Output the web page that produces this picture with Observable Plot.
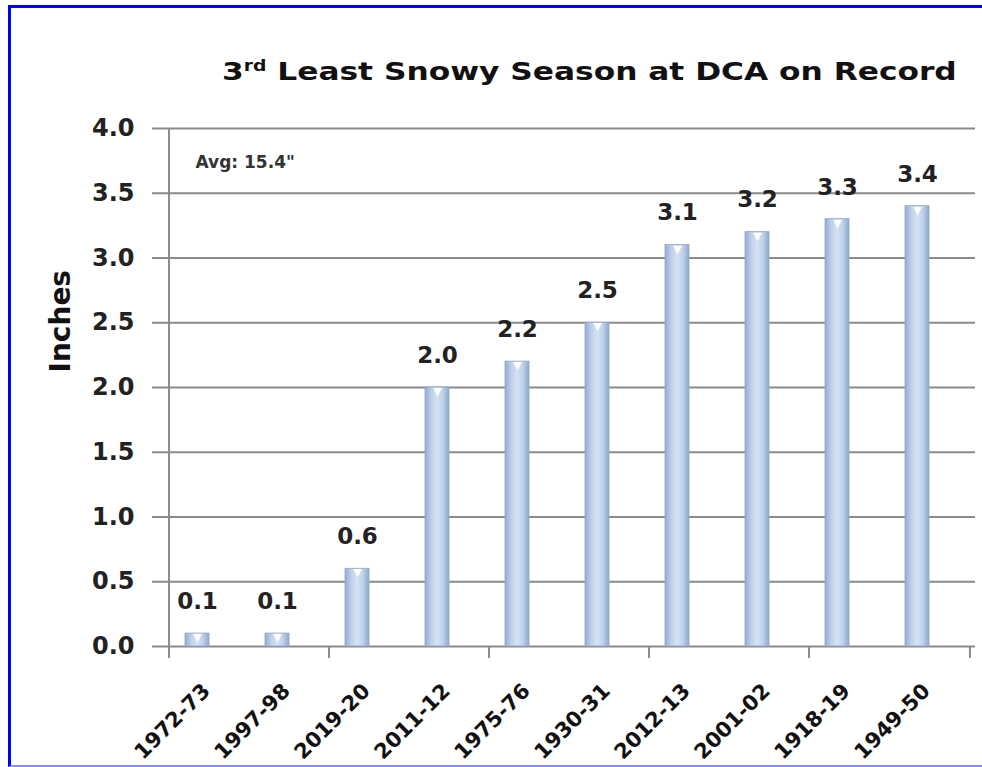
<!DOCTYPE html>
<html>
<head>
<meta charset="utf-8">
<script src="https://cdn.jsdelivr.net/npm/d3@7"></script>
<script src="https://cdn.jsdelivr.net/npm/@observablehq/plot@0.6"></script>
<style>
  html, body { margin: 0; padding: 0; background: #fff; }
  body { width: 982px; height: 767px; overflow: hidden; position: relative; font-family: "DejaVu Sans", sans-serif; }
  #frame { position: absolute; left: 8px; top: 5px; width: 1000px; height: 757px;
           border-top: 3px solid #0000ff; border-left: 3px solid #0000ff; border-bottom: 2px solid #8c8cff; }
  #title { position: absolute; left: 222px; top: 59px; font-size: 25px; line-height: 25px; font-weight: bold;
           color: #111; white-space: nowrap; transform: scaleX(1.25); transform-origin: left center; }
  #title sup { font-size: 15px; vertical-align: 9px; line-height: 0; }
  #chart { position: absolute; left: 0; top: 100px; }
</style>
</head>
<body>
<div id="frame"></div>
<div id="title">3<sup>rd</sup> Least Snowy Season at DCA on Record</div>
<div id="chart"></div>
<script>
const seasons = ["1972-73", "1997-98", "2019-20", "2011-12", "1975-76", "1930-31", "2012-13", "2001-02", "1918-19", "1949-50"];
const inches = [0.1, 0.1, 0.6, 2.0, 2.2, 2.5, 3.1, 3.2, 3.3, 3.4];
const yTicks = [0, 0.5, 1.0, 1.5, 2.0, 2.5, 3.0, 3.5, 4.0];
const tickSeasons = ["1972-73", "2019-20", "1975-76", "2012-13", "1918-19"];
const avgNote = "Avg: 15.4\"";
const yLabel = "Inches";

const data = seasons.map((s, i) => ({season: s, inches: inches[i]}));

const W = 982, H = 667, mL = 164, mR = 9, mT = 28, mB = 121;
const bw = (W - mL - mR) / seasons.length;
const gray = "#8a8a8a";
const shift = -12;

const chart = Plot.plot({
  width: W, height: H,
  marginLeft: mL, marginRight: mR, marginTop: mT, marginBottom: mB,
  style: {fontFamily: "DejaVu Sans, sans-serif", background: "transparent", overflow: "visible"},
  x: {type: "band", domain: seasons, padding: 0, axis: null},
  y: {domain: [0, 4], axis: null},
  marks: [
    Plot.ruleY(yTicks, {stroke: gray, strokeWidth: 2, insetLeft: -12, insetRight: -2}),
    Plot.ruleX([seasons[0]], {x: d => d, dx: -bw / 2, stroke: gray, strokeWidth: 2}),
    Plot.ruleX(tickSeasons, {x: d => d, y1: 0, y2: 0, insetBottom: -12, dx: -bw / 2, stroke: gray, strokeWidth: 2}),
    Plot.ruleX([seasons[seasons.length - 1]], {x: d => d, y1: 0, y2: 0, insetBottom: -12, dx: bw / 2, stroke: gray, strokeWidth: 2}),
    Plot.barY(data, {x: "season", y: "inches", fill: "url(#barGrad)", insetLeft: 16, insetRight: 40,
                     stroke: "#93a8c6", strokeWidth: 0.8}),
    Plot.text(data, {x: "season", y: "inches", text: () => "▼", fill: "#ffffff", fontSize: 11, dy: 4, dx: shift}),
    Plot.text(data, {x: "season", y: "inches", text: d => d.inches.toFixed(1), dy: -32, dx: shift,
                     fontSize: 23, fontWeight: "bold", fill: "#222"}),
    Plot.axisY({ticks: yTicks, tickSize: 0, tickPadding: 30, tickFormat: d3.format(".1f"),
                fontSize: 24, fontWeight: "bold", fill: "#222", label: null}),
    Plot.text(seasons, {x: d => d, y: 0, text: d => d, rotate: -45, textAnchor: "end", lineAnchor: "middle",
                        dx: -3, dy: 41, fontSize: 21, fontWeight: "bold", fill: "#111"}),
    Plot.text([avgNote], {frameAnchor: "top-left", text: d => d, dx: 31, dy: 27, fontSize: 17, fontWeight: "bold",
                          fill: "#333", textAnchor: "start"}),
    Plot.text([yLabel], {frameAnchor: "left", text: d => d, rotate: -90, dx: -103, dy: -15,
                         fontSize: 28, fontWeight: "bold", fill: "#111"})
  ]
});

const defs = d3.create("svg:defs");
const grad = defs.append("linearGradient").attr("id", "barGrad").attr("x1", "0%").attr("x2", "100%").attr("y1", "0%").attr("y2", "0%");
[["0%", "#93abcf"], ["25%", "#bccfe9"], ["50%", "#d6e2f3"], ["75%", "#bfd1ea"], ["100%", "#8ea6ca"]]
  .forEach(([o, c]) => grad.append("stop").attr("offset", o).attr("stop-color", c));
chart.insertBefore(defs.node(), chart.firstChild);

document.getElementById("chart").appendChild(chart);
</script>
</body>
</html>
